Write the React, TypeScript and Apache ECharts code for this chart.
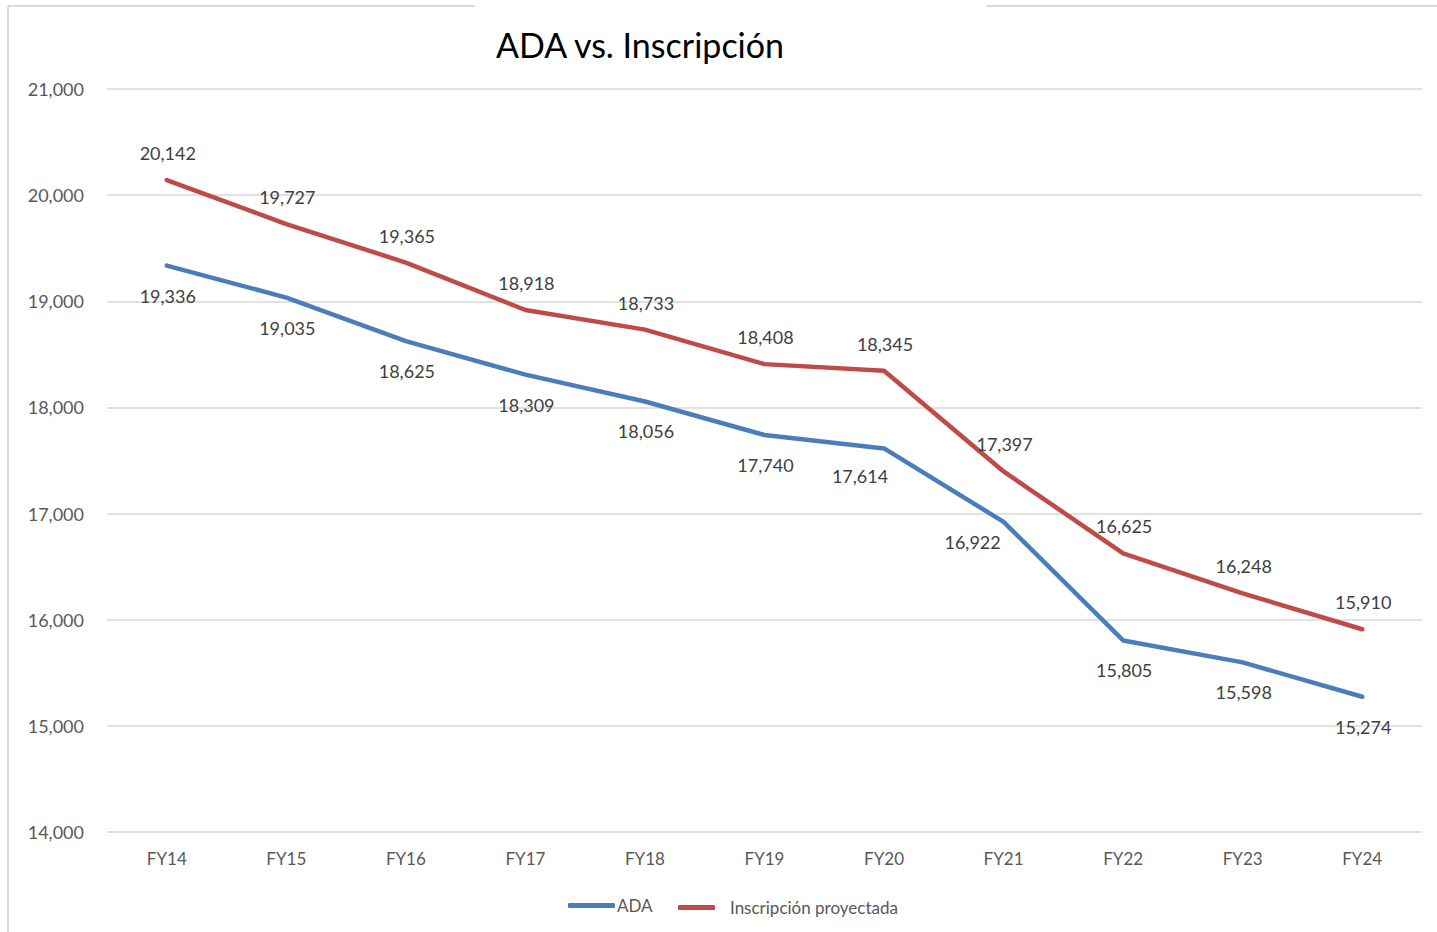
import React, { useEffect, useRef } from "react";
import * as echarts from "echarts";

const categories = ["FY14", "FY15", "FY16", "FY17", "FY18", "FY19", "FY20", "FY21", "FY22", "FY23", "FY24"];
const adaValues = [19336, 19035, 18625, 18309, 18056, 17740, 17614, 16922, 15805, 15598, 15274];
const inscripcionValues = [20142, 19727, 19365, 18918, 18733, 18408, 18345, 17397, 16625, 16248, 15910];
const titleText = "ADA vs. Inscripción";
const seriesNames = ["ADA", "Inscripción proyectada"];

const FONT = "Lato, 'Open Sans', sans-serif";
const fmt = (v: number) => Number(v).toLocaleString("en-US");

export default function App() {
  const ref = useRef<HTMLDivElement>(null);
  useEffect(() => {
    document.body.style.margin = "0";
    if (!ref.current) return;
    const chart = echarts.init(ref.current, null, { renderer: "svg" });
    const adaLabelShift: Record<number, number[]> = { 6: [-24, -2], 7: [-31, -10] };
    chart.setOption({
      animation: false,
      backgroundColor: "#ffffff",
      grid: { left: 107, right: 15, top: 89, bottom: 100, containLabel: false },
      graphic: [
        { type: "line", shape: { x1: 8, y1: 6, x2: 8, y2: 932 }, style: { stroke: "#d9d9d9", lineWidth: 2 } },
        { type: "line", shape: { x1: 8, y1: 6, x2: 475, y2: 6 }, style: { stroke: "#d9d9d9", lineWidth: 2 } },
        { type: "line", shape: { x1: 986, y1: 6, x2: 1437, y2: 6 }, style: { stroke: "#d9d9d9", lineWidth: 2 } },
        {
          type: "text",
          x: 640,
          y: 44,
          style: { text: titleText, font: `34px ${FONT}`, fill: "#000000", textAlign: "center", textVerticalAlign: "middle" },
        },
      ],
      legend: [
        {
          data: [seriesNames[0]],
          left: 563,
          top: 892,
          icon: "roundRect",
          itemWidth: 47,
          itemHeight: 5,
          textStyle: { color: "#595959", fontSize: 17, fontFamily: FONT, padding: [0, 0, 0, -3] },
        },
        {
          data: [seriesNames[1]],
          left: 673,
          top: 894,
          icon: "roundRect",
          itemWidth: 37,
          itemHeight: 5,
          textStyle: { color: "#595959", fontSize: 17, fontFamily: FONT, padding: [0, 0, 0, 10] },
        },
      ],
      xAxis: {
        type: "category",
        data: categories,
        boundaryGap: true,
        axisLine: { show: false },
        axisTick: { show: false },
        axisLabel: { color: "#595959", fontSize: 17, fontFamily: FONT, margin: 18 },
      },
      yAxis: {
        type: "value",
        min: 14000,
        max: 21000,
        interval: 1000,
        axisLine: { show: false },
        axisTick: { show: false },
        axisLabel: { color: "#595959", fontSize: 18, fontFamily: FONT, margin: 23, formatter: (v: number) => fmt(v) },
        splitLine: { lineStyle: { color: "#d9d9d9", width: 1.5 } },
      },
      series: [
        {
          name: seriesNames[0],
          type: "line",
          data: adaValues,
          symbol: "circle",
          symbolSize: 2,
          showSymbol: true,
          color: "#4a7ebb",
          itemStyle: { color: "#4a7ebb" },
          lineStyle: { width: 4.5, color: "#4a7ebb", cap: "round", join: "round" },
          label: {
            show: true,
            position: "bottom",
            distance: 20,
            color: "#404040",
            fontSize: 18,
            fontFamily: FONT,
            formatter: (p: any) => fmt(p.value),
          },
          labelLayout: (p: any) => {
            const s = adaLabelShift[p.dataIndex] || [1, 0];
            return { dx: s[0], dy: s[1], hideOverlap: false };
          },
          z: 3,
        },
        {
          name: seriesNames[1],
          type: "line",
          data: inscripcionValues,
          symbol: "circle",
          symbolSize: 2,
          showSymbol: true,
          color: "#be4b48",
          itemStyle: { color: "#be4b48" },
          lineStyle: { width: 4.5, color: "#be4b48", cap: "round", join: "round" },
          label: {
            show: true,
            position: "top",
            distance: 17,
            color: "#404040",
            fontSize: 18,
            fontFamily: FONT,
            formatter: (p: any) => fmt(p.value),
          },
          labelLayout: () => ({ dx: 1, dy: 0, hideOverlap: false }),
          z: 3,
        },
      ],
    });
    return () => chart.dispose();
  }, []);
  return <div ref={ref} style={{ width: 1437, height: 932 }} />;
}
